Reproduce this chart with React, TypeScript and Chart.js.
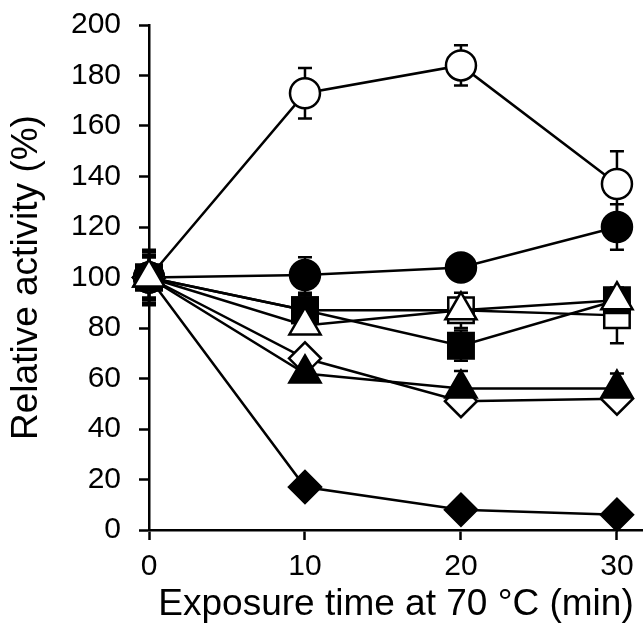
import React, { useEffect, useRef } from "react";
import { Chart, registerables } from "chart.js";

Chart.register(...registerables);

// ---- data ----
const xValues = [0, 10, 20, 30];
const xTickValues = [0, 10, 20, 30];

const openCircle = [100, 173, 184, 137];
const openCircleErr = [10, 10, 8, 13];

const filledCircle = [100, 101, 104, 120];
const filledCircleErr = [8, 7, 2, 9];

const filledSquare = [100, 87, 73, 91];
const filledSquareErr = [11, 6, 6, 3];

const openSquare = [100, 87, 87, 85];
const openSquareErr = [9, 5, 7, 11];

const openTriangle = [100, 81, 87, 91];
const openTriangleErr = [8, 3, 3, 3];

const filledTriangle = [100, 62, 56, 56];
const filledTriangleErr = [5, 2, 7, 6];

const openDiamond = [100, 68, 51, 52];
const openDiamondErr = [4, 2, 2, 2];

const filledDiamond = [100, 17, 8, 6];
const filledDiamondErr = [3, 2, 1, 1];

const xTitle = "Exposure time at 70 °C (min)";
const yTitle = "Relative activity (%)";

const FONT = "'Liberation Sans', Arial, Helvetica, sans-serif";

type Series = {
  label: string;
  values: number[];
  errors: number[];
  style: string;
  filled: boolean;
  radius: number;
};

// first entry is drawn on top
const seriesList: Series[] = [
  { label: "open triangle", values: openTriangle, errors: openTriangleErr, style: "triangle", filled: false, radius: 18 },
  { label: "filled square", values: filledSquare, errors: filledSquareErr, style: "rect", filled: true, radius: 18 },
  { label: "open square", values: openSquare, errors: openSquareErr, style: "rect", filled: false, radius: 18 },
  { label: "filled triangle", values: filledTriangle, errors: filledTriangleErr, style: "triangle", filled: true, radius: 18 },
  { label: "open diamond", values: openDiamond, errors: openDiamondErr, style: "rectRot", filled: false, radius: 16 },
  { label: "filled diamond", values: filledDiamond, errors: filledDiamondErr, style: "rectRot", filled: true, radius: 16 },
  { label: "filled circle", values: filledCircle, errors: filledCircleErr, style: "circle", filled: true, radius: 15 },
  { label: "open circle", values: openCircle, errors: openCircleErr, style: "circle", filled: false, radius: 15 },
];

const errorBarPlugin = {
  id: "errorBars",
  beforeDatasetsDraw(chart: any) {
    const ctx = chart.ctx;
    const yScale = chart.scales.y;
    ctx.save();
    ctx.strokeStyle = "#000";
    ctx.lineWidth = 2.5;
    chart.data.datasets.forEach((ds: any, di: number) => {
      const meta = chart.getDatasetMeta(di);
      if (!ds.errorBars) return;
      meta.data.forEach((pt: any, i: number) => {
        const err = ds.errorBars[i];
        if (!err) return;
        const v = ds.data[i].y;
        const yTop = yScale.getPixelForValue(v + err);
        const yBot = yScale.getPixelForValue(v - err);
        const x = pt.x;
        const cap = 7;
        ctx.beginPath();
        ctx.moveTo(x, yTop);
        ctx.lineTo(x, yBot);
        ctx.moveTo(x - cap, yTop);
        ctx.lineTo(x + cap, yTop);
        ctx.moveTo(x - cap, yBot);
        ctx.lineTo(x + cap, yBot);
        ctx.stroke();
      });
    });
    ctx.restore();
  },
};

export default function App() {
  const ref = useRef<HTMLCanvasElement | null>(null);

  useEffect(() => {
    document.body.style.margin = "0";
    const canvas = ref.current;
    if (!canvas) return;
    const datasets = seriesList.map((s) => ({
      label: s.label,
      data: xValues.map((x, i) => ({ x, y: s.values[i] })),
      errorBars: s.errors,
      borderColor: "#000",
      borderWidth: 2.5,
      pointStyle: s.style,
      pointRadius: s.radius,
      pointBorderWidth: 2.5,
      pointBorderColor: "#000",
      pointBackgroundColor: s.filled ? "#000" : "#fff",
      fill: false,
      tension: 0,
      clip: false,
    }));

    const chart = new Chart(canvas, {
      type: "line",
      data: { datasets: datasets as any },
      plugins: [errorBarPlugin],
      options: {
        animation: false,
        responsive: false,
        maintainAspectRatio: false,
        layout: { autoPadding: false, padding: { top: 25, left: 0, right: 0, bottom: 0 } },
        plugins: { legend: { display: false }, tooltip: { enabled: false } },
        scales: {
          x: {
            type: "linear",
            min: 0,
            max: 31.67,
            afterBuildTicks: (s: any) => {
              s.ticks = xTickValues.map((v) => ({ value: v }));
            },
            afterFit: (s: any) => {
              s.height = 99;
              s.paddingLeft = 0;
              s.paddingRight = 0;
            },
            ticks: {
              color: "#000",
              font: { family: FONT, size: 30 },
              padding: 9,
              maxRotation: 0,
              autoSkip: false,
            },
            grid: {
              drawOnChartArea: false,
              drawTicks: true,
              tickLength: 10,
              tickWidth: 2.5,
              tickColor: "#000",
            },
            border: { display: true, color: "#000", width: 2.5 },
            title: {
              display: true,
              text: xTitle,
              color: "#000",
              font: { family: FONT, size: 37 },
              padding: { top: 0, bottom: 2 },
            },
          },
          y: {
            type: "linear",
            min: 0,
            max: 200,
            afterFit: (s: any) => {
              s.width = 149;
              s.paddingTop = 0;
              s.paddingBottom = 0;
            },
            ticks: {
              stepSize: 20,
              color: "#000",
              font: { family: FONT, size: 30 },
              padding: 18,
            },
            grid: {
              drawOnChartArea: false,
              drawTicks: true,
              tickLength: 10,
              tickWidth: 2.5,
              tickColor: "#000",
            },
            border: { display: true, color: "#000", width: 2.5 },
            title: {
              display: true,
              text: yTitle,
              color: "#000",
              font: { family: FONT, size: 37 },
              padding: { top: 5, bottom: 0 },
            },
          },
        },
      } as any,
    });
    return () => chart.destroy();
  }, []);

  return (
    <div style={{ position: "absolute", left: 0, top: 0, width: 643, height: 629, background: "#fff" }}>
      <canvas ref={ref} width={643} height={629} style={{ display: "block", width: 643, height: 629 }} />
    </div>
  );
}
